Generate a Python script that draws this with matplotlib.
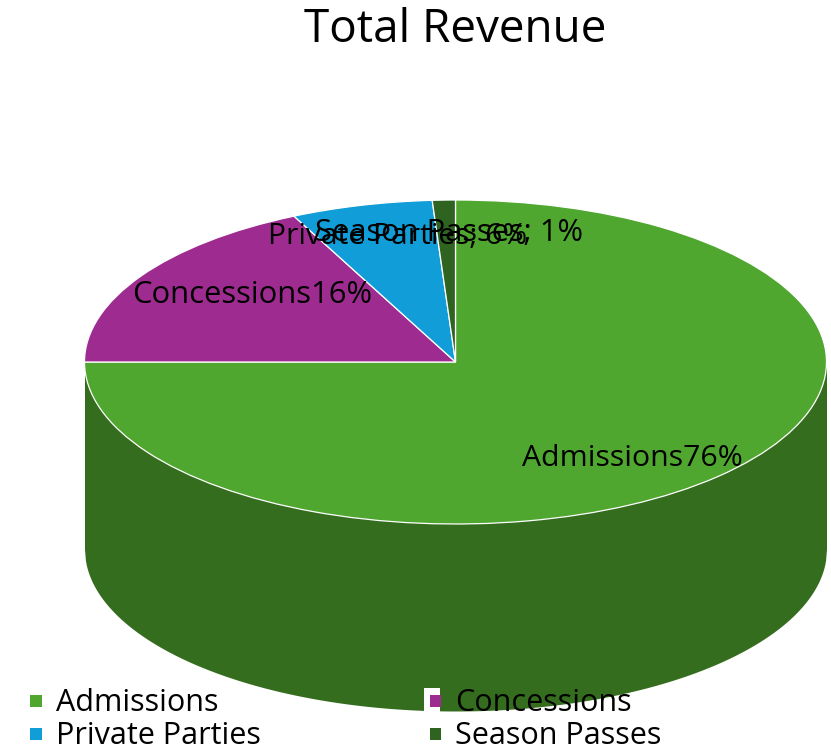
import numpy as np
import matplotlib
matplotlib.use('Agg')
import matplotlib.pyplot as plt
from matplotlib.patches import Rectangle

# shares, labels as printed on the chart
categories = ['Admissions', 'Concessions', 'Private Parties', 'Season Passes']
values = [75, 17.83, 6.17, 1]
slice_labels = ['Admissions76%', 'Concessions16%', 'Private Parties; 6%', 'Season Passes; 1%']
label_sizes = [21.8, 22.3, 21.6, 22.2]
colors = ['#4fa72f', '#9e2c90', '#119dd8', '#2f6420']
side_color = '#356d1e'

W, H = 831, 749
cx, cy = 455.5, 362     # pie centre, px
rx, ry = 371, 162       # ellipse radii, px
depth = 187 / ry

plt.rcParams['font.family'] = ['Open Sans', 'DejaVu Sans']

fig = plt.figure(figsize=(W / 100, H / 100), dpi=100)
ax = fig.add_axes([0, 0, 1, 1])


def px(x, y):
    return (x - cx) / rx, (cy - y) / ry


# side of the cylinder first, then top on it
t = np.linspace(-1, 1, 800)
ax.fill_between(t, -np.sqrt(1 - t ** 2) - depth, 0, color=side_color, lw=0)

ax.pie(values, colors=colors, startangle=90, counterclock=False, radius=1,
       wedgeprops={'edgecolor': 'white', 'linewidth': 0.9})

ax.set_aspect('auto')
ax.set_xlim(px(0, 0)[0], px(W, 0)[0])
ax.set_ylim(px(0, H)[1], px(0, 0)[1])
ax.axis('off')

ax.text(*px(455, 30), 'Total Revenue', fontsize=33, ha='center', va='center')

# data labels, px positions
label_pos = [(632, 459), (252, 295), (397.5, 236), (449, 233)]
for lab, (x, y), fs in zip(slice_labels, label_pos, label_sizes):
    ax.text(*px(x, y), lab, fontsize=fs, ha='center', va='center', color='black')

# legend by hand because the Concessions key sits on the pie
leg_x = [36, 435]
leg_y = [703, 736]
for i, name in enumerate(categories):
    x = leg_x[i % 2]
    y = leg_y[i // 2]
    if i == 1:
        x0, y0 = px(x - 11, y + 11)
        x1, y1 = px(x + 21, y - 15)
        ax.add_patch(Rectangle((x0, y0), (x1 - x0) / 2, y1 - y0, color='white', lw=0, zorder=4))
    x0, y0 = px(x - 5.5, y + 4)
    x1, y1 = px(x + 5.5, y - 8)
    ax.add_patch(Rectangle((x0, y0), x1 - x0, y1 - y0, color=colors[i], lw=0, zorder=5))
    ax.text(*px(x + 20, y), name, fontsize=22, ha='left', va='center', zorder=6)

fig.savefig('out.png', dpi=100)
